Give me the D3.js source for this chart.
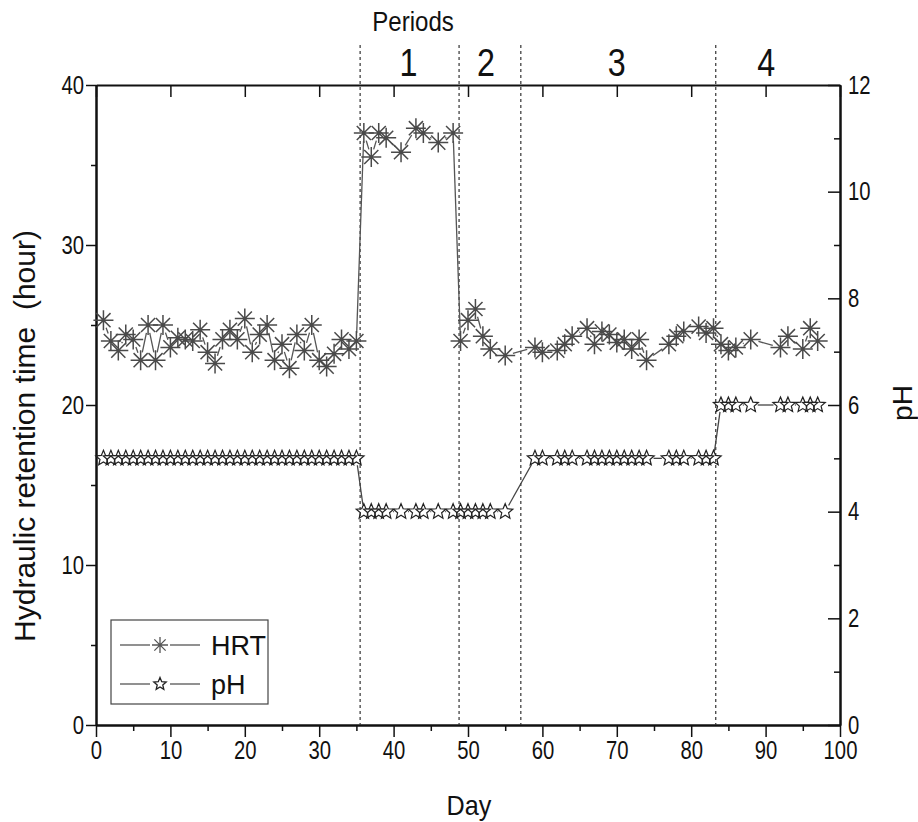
<!DOCTYPE html>
<head>
  <meta charset="utf-8">
  <script src="https://d3js.org/d3.v7.min.js"></script>
  <style>
    body { margin: 0; background: #fff; }
    svg { width: 918px; height: 822px; }
    text { font-family: "Liberation Sans", Arial, sans-serif; fill: #111; }
  </style>
</head>

<body>
  <svg></svg>
  <script>
    // measurement days and readings
    var days = [1, 2, 3, 4, 5, 6, 7, 8, 9, 10, 11, 12, 13, 14, 15, 16, 17, 18, 19, 20,
      21, 22, 23, 24, 25, 26, 27, 28, 29, 30, 31, 32, 33, 34, 35,
      36, 37, 38, 39, 41, 43, 44, 46, 48,
      49, 50, 51, 52, 53, 55,
      59, 60, 62, 63, 64, 66, 67, 68, 69, 70, 71, 72, 73, 74,
      77, 78, 79, 81, 82, 83,
      84, 85, 86, 88, 92, 93, 95, 96, 97];
    var hrt = [25.3, 24.0, 23.4, 24.4, 24.1, 22.8, 25.0, 22.8, 25.0, 23.6, 24.2, 24.1, 24.0, 24.7, 23.3, 22.6, 24.1, 24.7, 24.1, 25.4,
      23.3, 24.4, 25.0, 22.8, 23.8, 22.3, 24.4, 23.4, 25.0, 22.8, 22.4, 23.2, 24.1, 23.5, 24.0,
      37.0, 35.5, 37.0, 36.7, 35.8, 37.3, 37.0, 36.4, 37.0,
      24.0, 25.3, 26.0, 24.3, 23.5, 23.1,
      23.6, 23.3, 23.4, 23.8, 24.3, 24.8, 23.8, 24.6, 24.4, 23.9, 24.1, 23.5, 24.1, 22.8,
      23.8, 24.3, 24.6, 24.9, 24.5, 24.8,
      23.8, 23.4, 23.6, 24.1, 23.6, 24.3, 23.5, 24.8, 24.0];
    var ph = [5, 5, 5, 5, 5, 5, 5, 5, 5, 5, 5, 5, 5, 5, 5, 5, 5, 5, 5, 5,
      5, 5, 5, 5, 5, 5, 5, 5, 5, 5, 5, 5, 5, 5, 5,
      4, 4, 4, 4, 4, 4, 4, 4, 4,
      4, 4, 4, 4, 4, 4,
      5, 5, 5, 5, 5, 5, 5, 5, 5, 5, 5, 5, 5, 5,
      5, 5, 5, 5, 5, 5,
      6, 6, 6, 6, 6, 6, 6, 6, 6];

    var periodBounds = [35.5, 48.8, 57.1, 83.3];
    var periodNames = ['1', '2', '3', '4'];
    var periodCenters = [42.0, 52.4, 70.0, 90.1];
    var xTicks = d3.range(0, 101, 10);
    var hrtTicks = [0, 10, 20, 30, 40];
    var phTicks = [0, 2, 4, 6, 8, 10, 12];

    var margin = {left: 96, right: 78, top: 85, bottom: 97};
    var W = 918, H = 822;
    var narrow = 0.78;   // squeeze for the condensed tick font
    var svg = d3.select('svg');

    var x = d3.scaleLinear().domain([0, 100]).range([margin.left, W - margin.right]);
    var y = d3.scaleLinear().domain([0, 40]).range([H - margin.bottom, margin.top]);
    var y2 = d3.scaleLinear().domain([0, 12]).range([H - margin.bottom, margin.top]);

    // axes
    function styleAxis(g) {
      g.select('.domain').attr('stroke', '#111').attr('stroke-width', 2);
      g.selectAll('.tick line').attr('stroke', '#111').attr('stroke-width', 1.5);
      g.selectAll('text').attr('font-size', 26).attr('fill', '#111')
        .attr('transform', 'scale(' + narrow + ',1)');
    }
    var bottomAxis = svg.append('g').attr('transform', 'translate(0,' + y(0) + ')')
      .call(d3.axisBottom(x).tickValues(xTicks).tickSize(12).tickPadding(4).tickSizeOuter(0));
    styleAxis(bottomAxis);
    svg.append('g').attr('transform', 'translate(0,' + y(0) + ')')
      .call(d3.axisBottom(x).tickValues(d3.range(5, 100, 10)).tickSize(6).tickFormat('').tickSizeOuter(0))
      .call(styleAxis);

    var topAxis = svg.append('g').attr('transform', 'translate(0,' + y(40) + ')')
      .call(d3.axisBottom(x).tickValues(xTicks).tickSize(12).tickFormat('').tickSizeOuter(0));
    styleAxis(topAxis);

    var leftAxis = svg.append('g').attr('transform', 'translate(' + x(0) + ',0)')
      .call(d3.axisLeft(y).tickValues(hrtTicks).tickSize(10).tickSizeOuter(0));
    styleAxis(leftAxis);
    leftAxis.selectAll('text').attr('x', -12 / narrow);
    svg.append('g').attr('transform', 'translate(' + x(0) + ',0)')
      .call(d3.axisLeft(y).tickValues([5, 15, 25, 35]).tickSize(5).tickFormat('').tickSizeOuter(0))
      .call(styleAxis);

    var rightAxis = svg.append('g').attr('transform', 'translate(' + x(100) + ',0)')
      .call(d3.axisRight(y2).tickValues(phTicks).tickSize(-12).tickSizeOuter(0));
    styleAxis(rightAxis);
    rightAxis.selectAll('text').attr('x', 8 / narrow);
    svg.append('g').attr('transform', 'translate(' + x(100) + ',0)')
      .call(d3.axisRight(y2).tickValues([1, 3, 5, 7, 9, 11]).tickSize(-6).tickFormat('').tickSizeOuter(0))
      .call(styleAxis);

    // period separators
    svg.selectAll('line.period').data(periodBounds).enter().append('line')
      .attr('x1', function(d) { return x(d); }).attr('x2', function(d) { return x(d); })
      .attr('y1', 45).attr('y2', y(0))
      .attr('stroke', '#333').attr('stroke-width', 1.2).attr('stroke-dasharray', '3,3');

    svg.selectAll('text.period').data(periodNames).enter().append('text')
      .attr('transform', function(d, i) { return 'translate(' + x(periodCenters[i]) + ',76)scale(0.85,1)'; })
      .attr('text-anchor', 'middle').attr('font-size', 38)
      .text(function(d) { return d; });
    svg.append('text').attr('transform', 'translate(413,31)scale(0.86,1)').attr('text-anchor', 'middle')
      .attr('font-size', 28).text('Periods');

    // titles
    svg.append('text').attr('transform', 'translate(469,815)scale(0.9,1)')
      .attr('text-anchor', 'middle').attr('font-size', 28).text('Day');
    svg.append('text')
      .attr('transform', 'translate(35,436)rotate(-90)')
      .attr('text-anchor', 'middle').attr('font-size', 30)
      .text('Hydraulic retention time\u00a0\u00a0(hour)');
    svg.append('text')
      .attr('transform', 'translate(912,403)rotate(-90)')
      .attr('text-anchor', 'middle').attr('font-size', 28).text('pH');

    // series data as points
    var hrtPts = days.map(function(d, i) { return [x(d), y(hrt[i])]; });
    var phPts = days.map(function(d, i) { return [x(d), y2(ph[i])]; });

    // connecting lines with a gap around each symbol
    function gapSegments(pts, gap) {
      var segs = [];
      for (var i = 1; i < pts.length; i++) {
        var a = pts[i - 1], b = pts[i];
        var dx = b[0] - a[0], dy = b[1] - a[1];
        var len = Math.sqrt(dx * dx + dy * dy);
        if (len <= 2 * gap) continue;
        var ux = dx / len, uy = dy / len;
        segs.push([a[0] + ux * gap, a[1] + uy * gap, b[0] - ux * gap, b[1] - uy * gap]);
      }
      return segs;
    }
    function drawSegs(segs, color) {
      svg.append('g').selectAll('line').data(segs).enter().append('line')
        .attr('x1', function(d) { return d[0]; }).attr('y1', function(d) { return d[1]; })
        .attr('x2', function(d) { return d[2]; }).attr('y2', function(d) { return d[3]; })
        .attr('stroke', color).attr('stroke-width', 1.3);
    }
    drawSegs(gapSegments(hrtPts, 8), '#555');
    drawSegs(gapSegments(phPts, 7), '#444');

    // symbol paths
    function asterisk(r) {
      var d = '', k = r * Math.SQRT1_2;
      d += 'M' + (-r) + ',0L' + r + ',0';
      d += 'M0,' + (-r) + 'L0,' + r;
      d += 'M' + (-k) + ',' + (-k) + 'L' + k + ',' + k;
      d += 'M' + (-k) + ',' + k + 'L' + k + ',' + (-k);
      return d;
    }
    function star(r) {
      var pts = [];
      for (var i = 0; i < 10; i++) {
        var rr = i % 2 ? r * 0.45 : r;
        var a = -Math.PI / 2 + i * Math.PI / 5;
        pts.push([rr * Math.cos(a), rr * Math.sin(a)]);
      }
      return 'M' + pts.join('L') + 'Z';
    }

    svg.append('g').selectAll('path').data(hrtPts).enter().append('path')
      .attr('d', asterisk(10))
      .attr('transform', function(d) { return 'translate(' + d + ')'; })
      .attr('stroke', '#4a4a4a').attr('stroke-width', 1.5).attr('fill', 'none');
    svg.append('g').selectAll('path').data(phPts).enter().append('path')
      .attr('d', star(8))
      .attr('transform', function(d) { return 'translate(' + d + ')'; })
      .attr('stroke', '#222').attr('stroke-width', 1.2).attr('fill', 'none');

    // legend
    var lg = svg.append('g');
    lg.append('rect').attr('x', 111).attr('y', 620).attr('width', 157).attr('height', 84)
      .attr('fill', '#fff').attr('stroke', '#444').attr('stroke-width', 1.2);
    var legendItems = [
      {label: 'HRT', sym: asterisk(8), color: '#555', y: 645},
      {label: 'pH', sym: star(6.5), color: '#222', y: 684}
    ];
    legendItems.forEach(function(it) {
      lg.append('line').attr('x1', 120).attr('x2', 150).attr('y1', it.y).attr('y2', it.y)
        .attr('stroke', '#555').attr('stroke-width', 1.3);
      lg.append('line').attr('x1', 170).attr('x2', 200).attr('y1', it.y).attr('y2', it.y)
        .attr('stroke', '#555').attr('stroke-width', 1.3);
      lg.append('path').attr('d', it.sym).attr('transform', 'translate(160,' + it.y + ')')
        .attr('stroke', it.color).attr('stroke-width', 1.3).attr('fill', 'none');
      lg.append('text').attr('x', 211).attr('y', it.y + 10)
        .attr('font-size', 27).text(it.label);
    });
  </script>
</body>
